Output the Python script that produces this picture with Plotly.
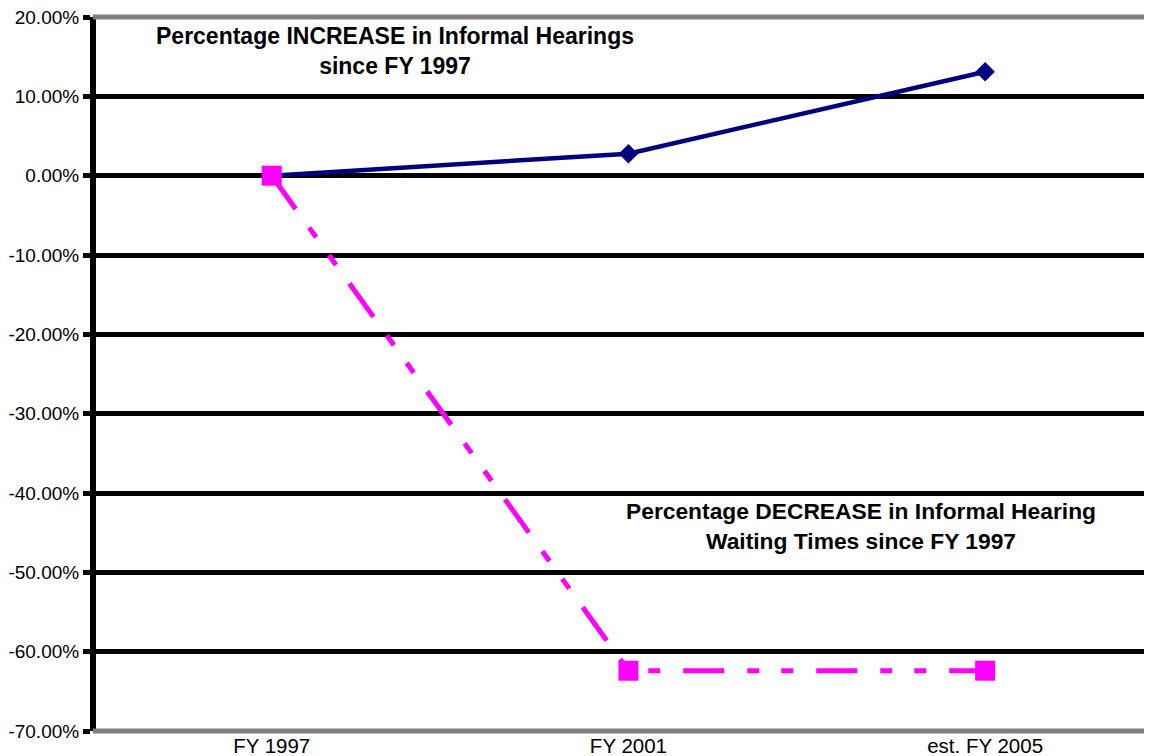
import plotly.graph_objects as go

categories = ["FY 1997", "FY 2001", "est. FY 2005"]
increase_hearings = [0.0, 2.77, 13.1]
decrease_waiting = [0.0, -62.4, -62.4]
y_ticks = [20, 10, 0, -10, -20, -30, -40, -50, -60, -70]
y_tick_labels = ["20.00%", "10.00%", "0.00%", "-10.00%", "-20.00%", "-30.00%",
                 "-40.00%", "-50.00%", "-60.00%", "-70.00%"]

FONT = "Arial, Liberation Sans, sans-serif"

fig = go.Figure()
fig.add_trace(go.Scatter(
    x=[0, 1, 2], y=increase_hearings, mode="lines+markers",
    line=dict(color="#000080", width=4.5),
    marker=dict(symbol="diamond", size=15, color="#000080"),
    name="Increase", showlegend=False, cliponaxis=False))
fig.add_trace(go.Scatter(
    x=[0, 1, 2], y=decrease_waiting, mode="lines+markers",
    line=dict(color="#FF00FF", width=5, dash="41px,23px,12px,22px,12px,23px"),
    marker=dict(symbol="square", size=20, color="#FF00FF"),
    name="Decrease", showlegend=False, cliponaxis=False))

fig.update_layout(
    width=1144, height=748,
    margin=dict(l=88, r=0, t=9, b=25, autoexpand=False),
    paper_bgcolor="white", plot_bgcolor="white",
    font=dict(family=FONT, size=19, color="black"),
    xaxis=dict(
        range=[-0.4926, 2.4678], tickvals=[0, 1, 2], ticktext=categories,
        showgrid=False, zeroline=False, showline=False, ticks="",
        tickfont=dict(size=20.5), automargin=False, ticklabeloverflow="allow"),
    yaxis=dict(
        range=[-70, 20], tickvals=y_ticks, ticktext=y_tick_labels,
        showgrid=True, gridcolor="black", gridwidth=5, zeroline=False,
        showline=True, linecolor="black", linewidth=6,
        ticks="outside", ticklen=7, tickwidth=5, tickcolor="black",
        tickfont=dict(size=19), automargin=False, ticklabeloverflow="allow"),
    shapes=[
        dict(type="line", xref="paper", yref="paper", x0=-0.003, x1=1, y0=1, y1=1,
             line=dict(color="#808080", width=5), layer="above"),
        dict(type="line", xref="paper", yref="paper", x0=-0.003, x1=1, y0=0, y1=0,
             line=dict(color="#808080", width=5), layer="above"),
    ],
    annotations=[
        dict(xref="paper", yref="paper", x=0.2831, y=0.953,
             xanchor="center", yanchor="middle",
             text="<b>Percentage INCREASE in Informal Hearings<br>since FY 1997</b>",
             showarrow=False, font=dict(size=23, family=FONT), align="center"),
        dict(xref="paper", yref="paper", x=0.7244, y=0.287,
             xanchor="center", yanchor="middle",
             text="<b>Percentage DECREASE in Informal Hearing<br>Waiting Times since FY 1997</b>",
             showarrow=False, font=dict(size=22.8, family=FONT), align="center"),
    ],
)

fig.write_html("out.html")
